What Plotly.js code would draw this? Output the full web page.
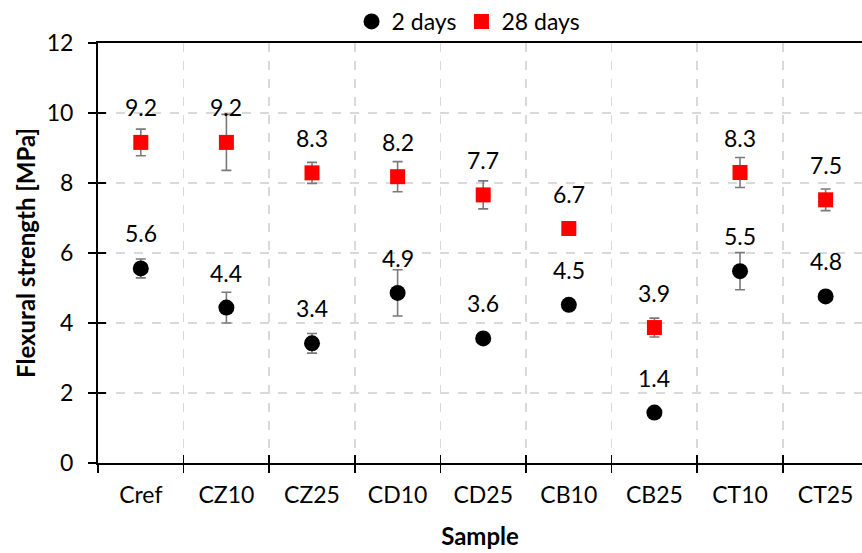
<!DOCTYPE html>
<html>
<head>
<meta charset="utf-8">
<script src="https://cdn.plot.ly/plotly-3.0.1.min.js"></script>
<style>html,body{margin:0;padding:0;background:#fff;}#chart{width:862px;height:553px;}</style>
</head>
<body>
<div id="chart"></div>
<script>
const samples = ['Cref','CZ10','CZ25','CD10','CD25','CB10','CB25','CT10','CT25'];
const days2 = [5.56, 4.44, 3.42, 4.86, 3.56, 4.52, 1.44, 5.48, 4.76];
const days2Err = [0.27, 0.44, 0.28, 0.66, 0.10, 0.12, 0.08, 0.53, 0.12];
const days28 = [9.16, 9.16, 8.29, 8.18, 7.66, 6.70, 3.87, 8.30, 7.52];
const days28Err = [0.38, 0.80, 0.30, 0.43, 0.40, 0.10, 0.27, 0.43, 0.31];
const yTicks = [0, 2, 4, 6, 8, 10, 12];

const FONT = 'Lato, "Open Sans", sans-serif';
const errStyle = {type: 'data', visible: true, color: '#7a7a7a', thickness: 1.6, width: 5};

const traces = [
  {x: samples, y: days2, name: '2 days', type: 'scatter', mode: 'markers',
   marker: {symbol: 'circle', size: 16, color: '#000000'},
   error_y: Object.assign({array: days2Err}, errStyle)},
  {x: samples, y: days28, name: '28 days', type: 'scatter', mode: 'markers',
   marker: {symbol: 'square', size: 15, color: '#ff0000'},
   error_y: Object.assign({array: days28Err}, errStyle)},
  // invisible helper trace so the overlay axes get the same categories (inner tick half)
  {x: samples, y: days2, xaxis: 'x2', yaxis: 'y2', type: 'scatter', mode: 'markers',
   marker: {opacity: 0}, showlegend: false, hoverinfo: 'skip'}
];

const annotations = [];
samples.forEach((s, i) => {
  annotations.push({x: s, y: days2[i], xref: 'x', yref: 'y', text: days2[i].toFixed(1),
    showarrow: false, yshift: 35, font: {family: FONT, size: 23, color: '#000'}});
  annotations.push({x: s, y: days28[i], xref: 'x', yref: 'y', text: days28[i].toFixed(1),
    showarrow: false, yshift: 35, font: {family: FONT, size: 23, color: '#000'}});
});

const layout = {
  width: 862, height: 553,
  margin: {l: 98, r: 0, t: 43, b: 90},
  paper_bgcolor: '#fff', plot_bgcolor: '#fff',
  font: {family: FONT, size: 23, color: '#000'},
  showlegend: true,
  legend: {orientation: 'h', x: 0.485, xanchor: 'center', y: 1.0, yanchor: 'bottom',
           bgcolor: 'rgba(0,0,0,0)',
           font: {family: FONT, size: 23, color: '#000'}, itemwidth: 30, tracegroupgap: 0},
  xaxis: {type: 'category', categoryorder: 'array', categoryarray: samples,
          range: [-0.5, 8.425], tickson: 'boundaries',
          showline: true, linecolor: '#000', linewidth: 2, mirror: true,
          ticks: 'outside', ticklen: 8, tickwidth: 1.5, tickcolor: '#000',
          showgrid: true, gridcolor: '#d9d9d9', griddash: 'dash', gridwidth: 1.5,
          ticklabelstandoff: 10,
          tickfont: {family: FONT, size: 23},
          title: {text: '<b>Sample</b>', font: {family: FONT, size: 24}, standoff: 22},
          automargin: false, fixedrange: true},
  yaxis: {range: [0, 12], tickvals: yTicks, ticktext: yTicks.map(String),
          showline: true, linecolor: '#000', linewidth: 2, mirror: false,
          ticks: 'outside', ticklen: 8, tickwidth: 1.5, tickcolor: '#000',
          showgrid: true, gridcolor: '#d9d9d9', griddash: 'dash', gridwidth: 1.5,
          zeroline: false, ticklabelstandoff: 10,
          tickfont: {family: FONT, size: 23},
          title: {text: '<b>Flexural strength [MPa]</b>', font: {family: FONT, size: 24}, standoff: 4},
          automargin: false, fixedrange: true},
  xaxis2: {type: 'category', categoryorder: 'array', categoryarray: samples, overlaying: 'x',
           matches: 'x', range: [-0.5, 8.425], tickson: 'boundaries', side: 'bottom',
           ticks: 'inside', ticklen: 8, tickwidth: 1.5, tickcolor: '#000',
           showticklabels: false, showgrid: false, showline: false, zeroline: false},
  yaxis2: {range: [0, 12], tickvals: yTicks, overlaying: 'y', matches: 'y', side: 'left',
           ticks: 'inside', ticklen: 8, tickwidth: 1.5, tickcolor: '#000',
           showticklabels: false, showgrid: false, showline: false, zeroline: false},
  annotations: annotations
};

Plotly.newPlot('chart', traces, layout, {displayModeBar: false, staticPlot: true});
</script>
</body>
</html>
